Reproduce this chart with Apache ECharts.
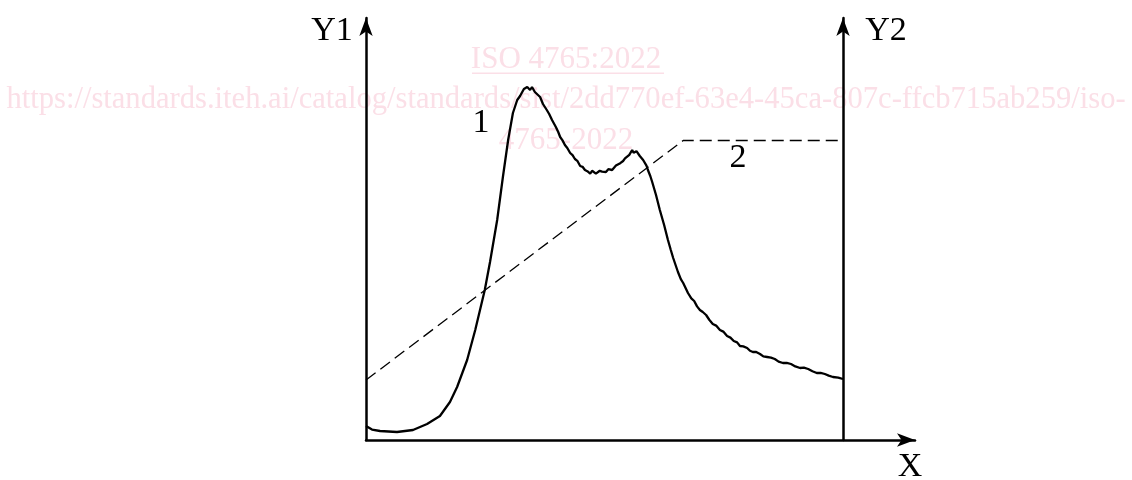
<!DOCTYPE html>
<html>
<head>
<meta charset="utf-8">
<script src="https://cdn.jsdelivr.net/npm/echarts@6/dist/echarts.min.js"></script>
<style>
html,body{margin:0;padding:0;background:#fff;}
#chart{width:1132px;height:480px;}
</style>
</head>
<body>
<div id="chart"></div>
<script>
// Curve 1 (solid): [x, y] in relative units (x: 0..100 between the Y1 and Y2 axes)
const curve1 = [
  [0,3.5],[1.26,2.6],[2.94,2.25],[6.5,2.0],[9.85,2.5],[12.8,4.0],[15.5,6.0],[17.6,9.5],
  [19.1,13.25],[21.2,20],[22.9,27.5],[24.9,37.5],[26.0,44.5],[27.5,55],[28.7,65.75],
  [29.8,75],[30.8,81.75],[31.7,85],[32.3,86],[33.1,87.75],[33.8,88.25],[34.4,87.5],
  [34.8,88.25],[35.4,87.0],[35.8,86.75],[36.5,85.75],[37.1,84.0],[37.9,82.5],[38.4,81.5],
  [39.0,80],[39.4,79.5],[39.8,78.25],[40.3,77.0],[40.7,75.75],[41.2,74.9],[41.7,73.75],
  [42.2,73.0],[42.8,71.75],[43.3,71.2],[43.8,70.25],[44.3,69.8],[44.9,68.5],[45.4,68.3],
  [45.9,67.5],[46.4,67.2],[47.0,66.6],[47.4,67.3],[47.8,67.5],[48.2,66.6],[48.6,66.5],
  [49.0,67.3],[49.5,67.1],[49.9,66.7],[50.3,67.0],[50.8,67.7],[51.2,68],[51.6,67.5],
  [52.0,67.75],[52.4,68.6],[52.8,68.75],[53.3,69.2],[53.9,69.75],[54.3,70.4],[54.7,70.75],
  [55.2,71.3],[55.8,72.5],[56.1,71.8],[56.4,71.75],[56.7,72.2],[57.0,71.8],[57.4,71.0],
  [57.7,70.75],[58.1,70.0],[58.5,69.5],[58.8,68.6],[59.1,67.5],[59.6,66.0],[60.0,64.5],
  [60.8,61.25],[61.6,57.5],[62.5,53.75],[63.3,50],[63.9,47.5],[64.4,45.5],[65.4,42],
  [66.0,40.2],[66.5,39.25],[67.5,36.75],[68.2,35.4],[68.8,34.75],[69.4,33.4],[70.0,32.5],
  [70.6,32.0],[71.3,31.25],[72.0,30.0],[72.7,29],[73.4,28.6],[74.2,27.5],[74.9,27.1],
  [75.7,26],[76.4,25.6],[77.1,24.75],[77.8,24.4],[78.4,23.5],[79.1,23.4],[79.9,23],
  [80.5,22.3],[81.1,22],[81.8,22.0],[82.6,21.5],[83.3,20.9],[84.1,20.75],[84.9,20.6],
  [85.7,20.25],[86.5,19.6],[87.4,19.25],[88.2,19.3],[89.1,19],[90.0,18.4],[91.0,18],
  [91.8,18.1],[92.7,17.75],[93.6,17.2],[94.5,16.75],[95.3,16.8],[96.2,16.5],[97.0,16.1],
  [97.9,15.75],[99.0,15.6],[100,15.25]
];
// Curve 2 (dashed): linear ramp then constant
const curve2 = [[0,15],[66.5,74.875],[100,74.875]];
// Labels
const axisNames = {y1:'Y1', y2:'Y2', x:'X'};
const curveLabels = ['1','2'];
const watermark = ['ISO 4765:2022',
  'https://standards.iteh.ai/catalog/standards/sist/2dd770ef-63e4-45ca-807c-ffcb715ab259/iso-',
  '4765-2022'];

const chart = echarts.init(document.getElementById('chart'));
const SERIF = '"Liberation Serif", "DejaVu Serif", serif';
const WM = '#fbdfe7';
const axisLineStyle = {color:'#000', width:2.5};
const arrow = ['none','arrow'];
const arrowSize = [10, 18];

chart.setOption({
  animation:false,
  backgroundColor:'#fff',
  grid:{left:366, top:18, width:549, height:422, containLabel:false},
  xAxis:{type:'value', min:0, max:549/4.77, 
    axisLine:{show:true, onZero:false, lineStyle:axisLineStyle, symbol:arrow, symbolSize:arrowSize},
    axisTick:{show:false}, axisLabel:{show:false}, splitLine:{show:false}},
  yAxis:[
    {type:'value', min:0, max:105.5, position:'left',
      axisLine:{show:true, lineStyle:axisLineStyle, symbol:arrow, symbolSize:arrowSize},
      axisTick:{show:false}, axisLabel:{show:false}, splitLine:{show:false}},
    {type:'value', min:0, max:105.5, position:'right', offset:-72,
      axisLine:{show:true, lineStyle:axisLineStyle, symbol:arrow, symbolSize:arrowSize},
      axisTick:{show:false}, axisLabel:{show:false}, splitLine:{show:false}}
  ],
  graphic:[
    {type:'text', z:-10, left:'center', top:44, style:{text:watermark[0], font:'31px '+SERIF, fill:WM}},
    {type:'rect', z:-10, shape:{x:472, y:72.5, width:192, height:1.5}, style:{fill:WM}},
    {type:'text', z:-10, left:'center', top:84, style:{text:watermark[1], font:'30.6px '+SERIF, fill:WM}},
    {type:'text', z:-10, left:'center', top:125, style:{text:watermark[2], font:'31px '+SERIF, fill:WM}},
    {type:'text', x:332, y:31, style:{text:axisNames.y1, font:'34px '+SERIF, fill:'#000', textAlign:'center', textVerticalAlign:'middle'}},
    {type:'text', x:886, y:31, style:{text:axisNames.y2, font:'34px '+SERIF, fill:'#000', textAlign:'center', textVerticalAlign:'middle'}},
    {type:'text', x:910, y:467, style:{text:axisNames.x, font:'34px '+SERIF, fill:'#000', textAlign:'center', textVerticalAlign:'middle'}},
    {type:'text', x:481, y:123, style:{text:curveLabels[0], font:'34px '+SERIF, fill:'#000', textAlign:'center', textVerticalAlign:'middle'}},
    {type:'text', x:738, y:158, style:{text:curveLabels[1], font:'34px '+SERIF, fill:'#000', textAlign:'center', textVerticalAlign:'middle'}}
  ],
  series:[
    {type:'line', data:curve1, showSymbol:false, symbol:'none', smooth:false,
      lineStyle:{color:'#000', width:2.3}, z:3},
    {type:'line', data:curve2, showSymbol:false, symbol:'none',
      lineStyle:{color:'#000', width:1.3, type:[12,6]}, z:3}
  ]
});
</script>
</body>
</html>
